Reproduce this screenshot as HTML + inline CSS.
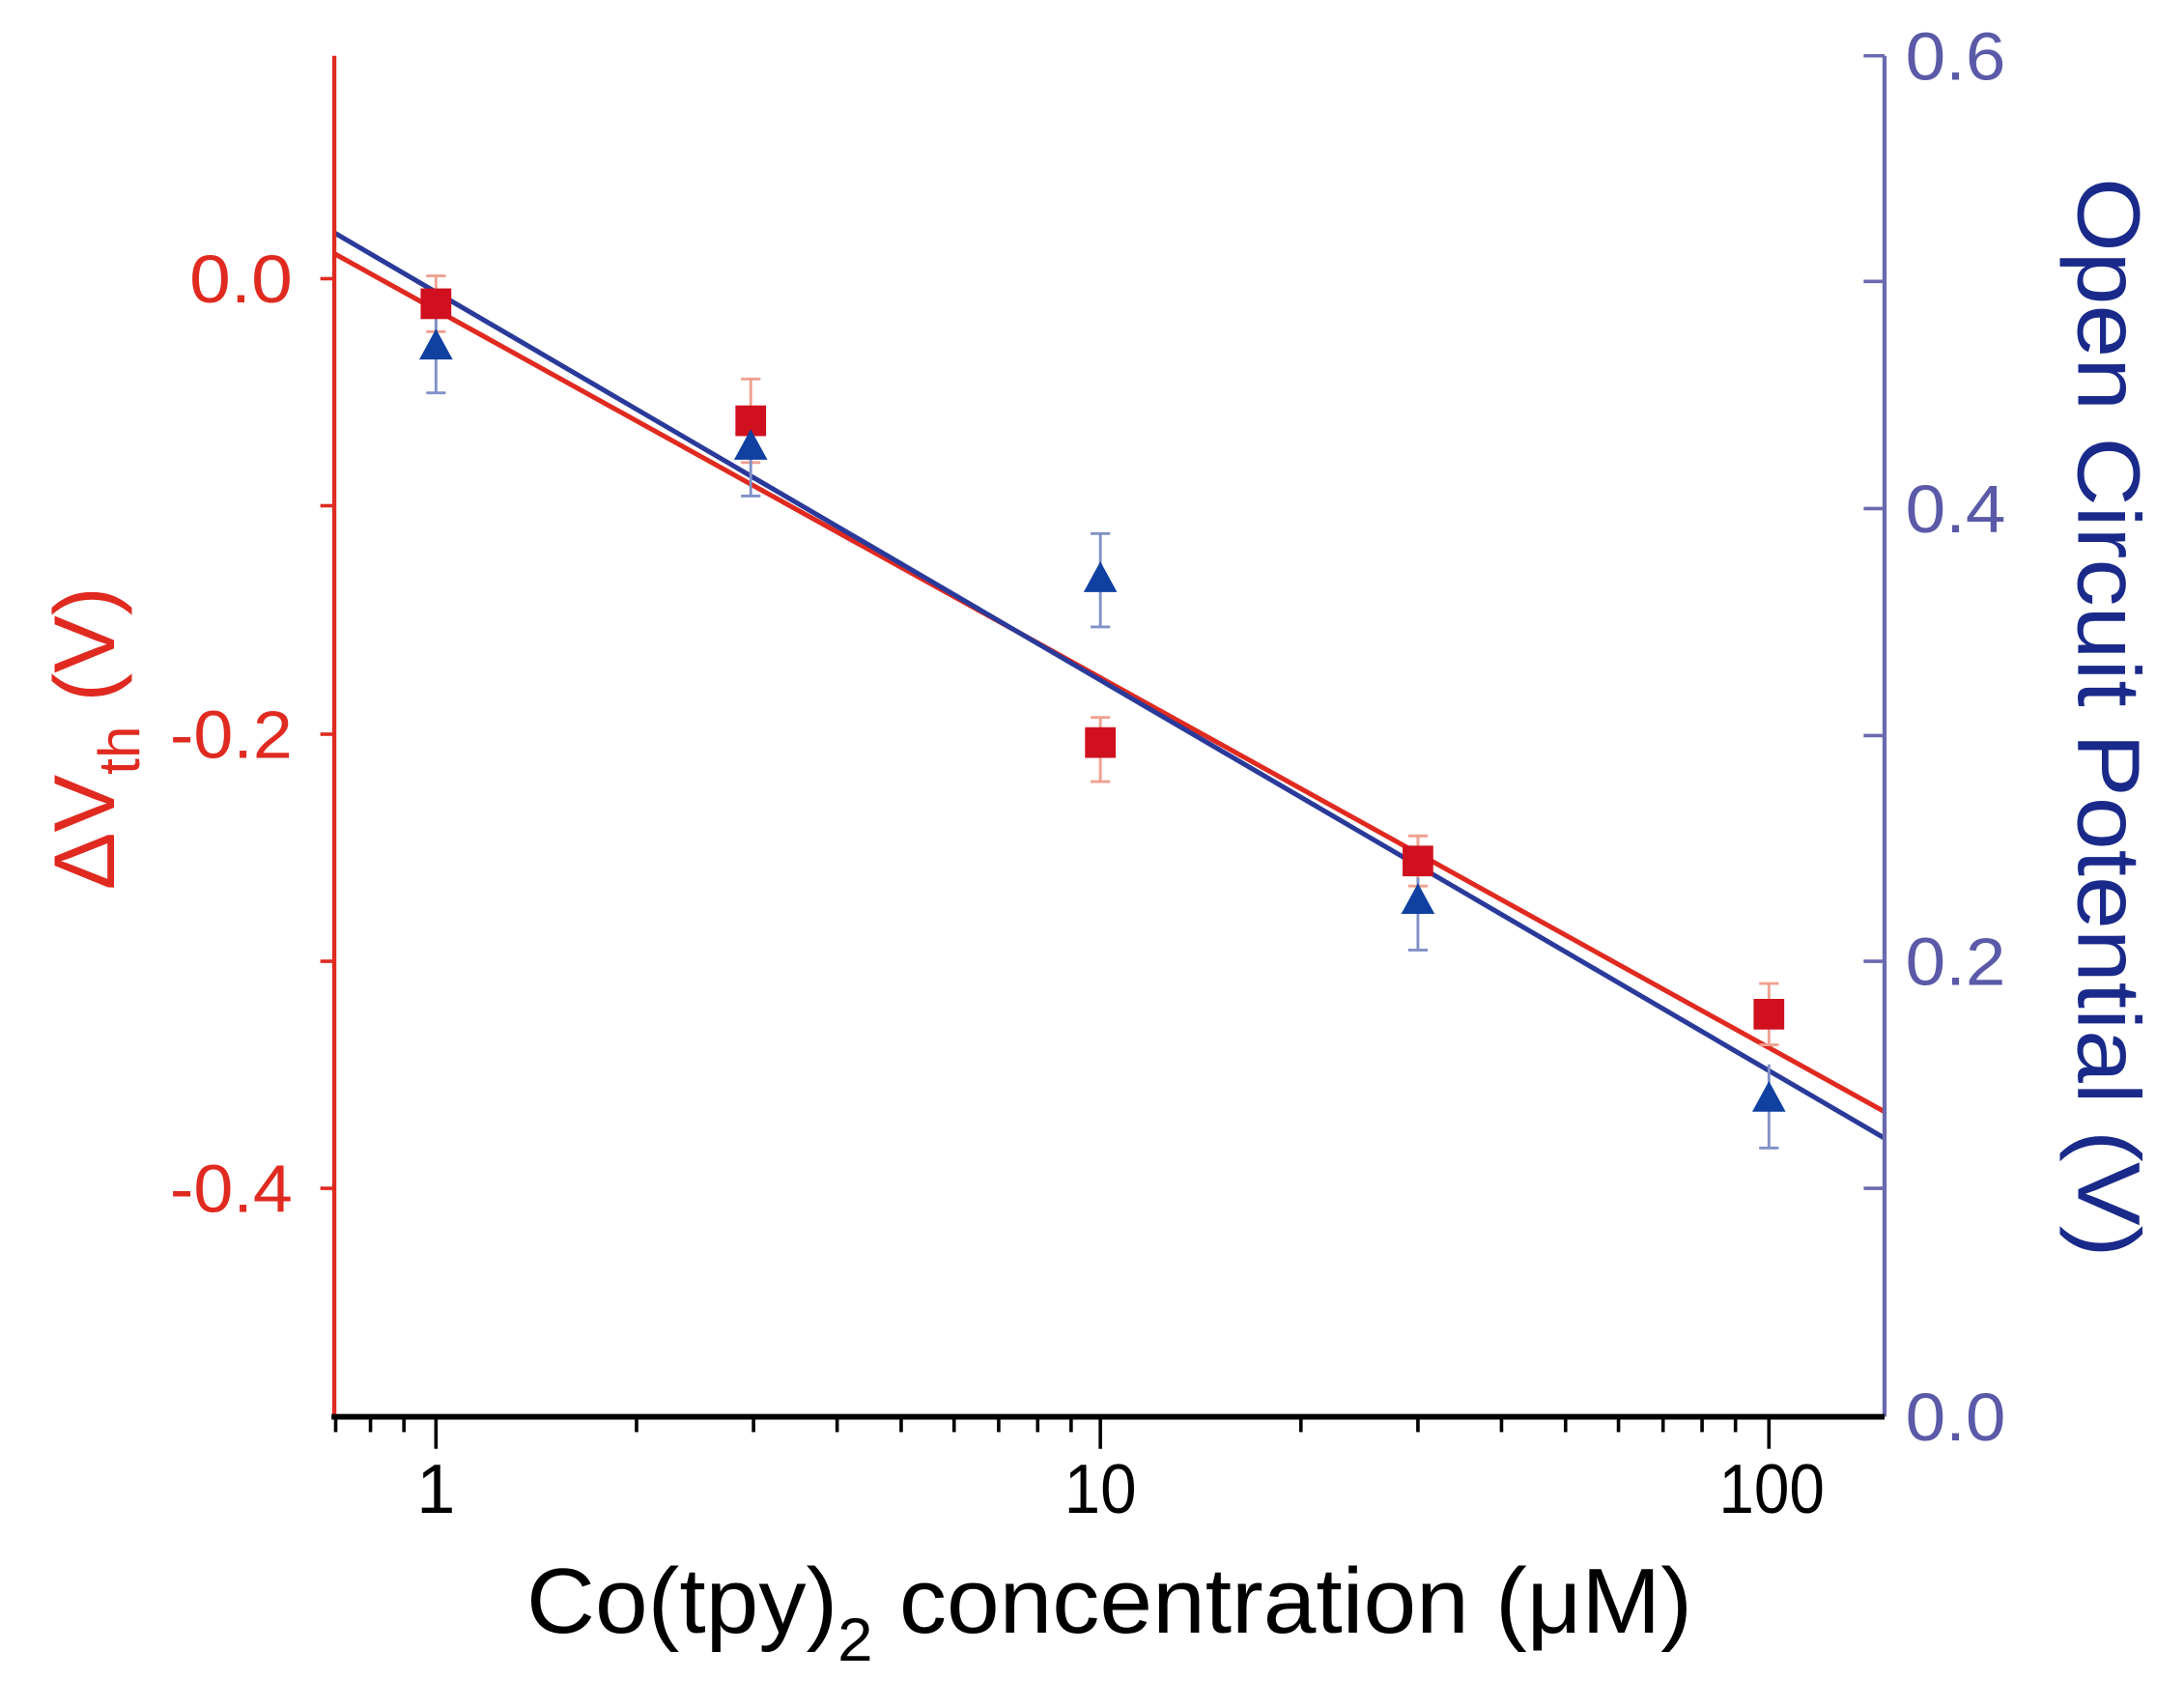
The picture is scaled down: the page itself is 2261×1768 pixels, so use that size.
<!DOCTYPE html>
<html><head><meta charset="utf-8"><style>html,body{margin:0;padding:0;background:#fff}svg{display:block}</style></head>
<body>
<svg width="2261" height="1768" viewBox="0 0 1568 1226" xmlns="http://www.w3.org/2000/svg" font-family="Liberation Sans, Arial, sans-serif">
<rect width="1568" height="1226" fill="#fff"/>
<line x1="240" y1="182" x2="1353" y2="798" stroke="#e02a20" stroke-width="3.5"/>
<line x1="240" y1="167" x2="1353" y2="817" stroke="#2a3a9a" stroke-width="3.5"/>
<g stroke="#f0a090" stroke-width="2">
<line x1="313" y1="198" x2="313" y2="238"/><line x1="306" y1="198" x2="320" y2="198"/><line x1="306" y1="238" x2="320" y2="238"/>
<line x1="539" y1="272" x2="539" y2="332"/><line x1="532" y1="272" x2="546" y2="272"/><line x1="532" y1="332" x2="546" y2="332"/>
<line x1="790" y1="515" x2="790" y2="561"/><line x1="783" y1="515" x2="797" y2="515"/><line x1="783" y1="561" x2="797" y2="561"/>
<line x1="1018" y1="600" x2="1018" y2="636"/><line x1="1011" y1="600" x2="1025" y2="600"/><line x1="1011" y1="636" x2="1025" y2="636"/>
<line x1="1270" y1="706" x2="1270" y2="750"/><line x1="1263" y1="706" x2="1277" y2="706"/><line x1="1263" y1="750" x2="1277" y2="750"/>
</g>
<g stroke="#8090c8" stroke-width="2">
<line x1="313" y1="220" x2="313" y2="282"/><line x1="306" y1="282" x2="320" y2="282"/>
<line x1="539" y1="300" x2="539" y2="356"/><line x1="532" y1="356" x2="546" y2="356"/>
<line x1="790" y1="383" x2="790" y2="450"/><line x1="783" y1="383" x2="797" y2="383"/><line x1="783" y1="450" x2="797" y2="450"/>
<line x1="1018" y1="630" x2="1018" y2="682"/><line x1="1011" y1="682" x2="1025" y2="682"/>
<line x1="1270" y1="764" x2="1270" y2="824"/><line x1="1263" y1="824" x2="1277" y2="824"/>
</g>
<g fill="#d0101e">
<rect x="302" y="207" width="22" height="22"/>
<rect x="528" y="291" width="22" height="22"/>
<rect x="779" y="522" width="22" height="22"/>
<rect x="1007" y="607" width="22" height="22"/>
<rect x="1259" y="717" width="22" height="22"/>
</g>
<g fill="#1040a0">
<polygon points="313,236 301,258 325,258"/>
<polygon points="539,308 527,330 551,330"/>
<polygon points="790,403 778,425 802,425"/>
<polygon points="1018,634 1006,656 1030,656"/>
<polygon points="1270,776 1258,798 1282,798"/>
</g>
<line x1="240" y1="40" x2="240" y2="1017" stroke="#e02a20" stroke-width="3"/>
<g stroke="#e02a20" stroke-width="2.5">
<line x1="230" y1="200" x2="240" y2="200"/><line x1="230" y1="363" x2="240" y2="363"/><line x1="230" y1="527" x2="240" y2="527"/><line x1="230" y1="690" x2="240" y2="690"/><line x1="230" y1="853" x2="240" y2="853"/>
</g>
<g fill="#e02a20" font-size="48" text-anchor="end">
<text x="210" y="217" textLength="74" lengthAdjust="spacingAndGlyphs">0.0</text><text x="210" y="544" textLength="88" lengthAdjust="spacingAndGlyphs">-0.2</text><text x="210" y="870" textLength="88" lengthAdjust="spacingAndGlyphs">-0.4</text>
</g>
<text transform="translate(82,530) rotate(-90)" fill="#e02a20" font-size="62" text-anchor="middle">ΔV<tspan font-size="42" dy="18">th</tspan><tspan dy="-18"> (V)</tspan></text>
<line x1="1353" y1="40" x2="1353" y2="1017" stroke="#6a6ab0" stroke-width="3"/>
<g stroke="#6a6ab0" stroke-width="2.5">
<line x1="1338" y1="40" x2="1353" y2="40"/><line x1="1338" y1="202" x2="1353" y2="202"/><line x1="1338" y1="365" x2="1353" y2="365"/><line x1="1338" y1="528" x2="1353" y2="528"/><line x1="1338" y1="690" x2="1353" y2="690"/><line x1="1338" y1="853" x2="1353" y2="853"/>
</g>
<g fill="#5a5aa8" font-size="48">
<text x="1368" y="57" textLength="72" lengthAdjust="spacingAndGlyphs">0.6</text><text x="1368" y="382" textLength="72" lengthAdjust="spacingAndGlyphs">0.4</text><text x="1368" y="707" textLength="72" lengthAdjust="spacingAndGlyphs">0.2</text><text x="1368" y="1034" textLength="72" lengthAdjust="spacingAndGlyphs">0.0</text>
</g>
<text transform="translate(1492,515) rotate(90)" fill="#1a2a8a" font-size="64" text-anchor="middle" textLength="775" lengthAdjust="spacingAndGlyphs">Open Circuit Potential (V)</text>
<line x1="238" y1="1017" x2="1353" y2="1017" stroke="#000" stroke-width="4"/>
<g stroke="#000" stroke-width="2.5">
<line x1="313" y1="1017" x2="313" y2="1040"/><line x1="790" y1="1017" x2="790" y2="1040"/><line x1="1270" y1="1017" x2="1270" y2="1040"/>
<line x1="241" y1="1017" x2="241" y2="1028"/><line x1="266" y1="1017" x2="266" y2="1028"/><line x1="290" y1="1017" x2="290" y2="1028"/>
<line x1="457" y1="1017" x2="457" y2="1028"/><line x1="541" y1="1017" x2="541" y2="1028"/><line x1="601" y1="1017" x2="601" y2="1028"/><line x1="647" y1="1017" x2="647" y2="1028"/><line x1="685" y1="1017" x2="685" y2="1028"/><line x1="717" y1="1017" x2="717" y2="1028"/><line x1="745" y1="1017" x2="745" y2="1028"/><line x1="769" y1="1017" x2="769" y2="1028"/>
<line x1="934" y1="1017" x2="934" y2="1028"/><line x1="1018" y1="1017" x2="1018" y2="1028"/><line x1="1078" y1="1017" x2="1078" y2="1028"/><line x1="1124" y1="1017" x2="1124" y2="1028"/><line x1="1162" y1="1017" x2="1162" y2="1028"/><line x1="1194" y1="1017" x2="1194" y2="1028"/><line x1="1222" y1="1017" x2="1222" y2="1028"/><line x1="1246" y1="1017" x2="1246" y2="1028"/>
</g>
<g fill="#000" font-size="50" text-anchor="middle">
<text x="313" y="1086">1</text><text x="790" y="1086" textLength="52" lengthAdjust="spacingAndGlyphs">10</text><text x="1272" y="1086" textLength="76" lengthAdjust="spacingAndGlyphs">100</text>
</g>
<text x="378" y="1172" fill="#000" font-size="66" textLength="837" lengthAdjust="spacingAndGlyphs">Co(tpy)<tspan font-size="44" dy="20">2</tspan><tspan dy="-20"> concentration (μM)</tspan></text>
</svg>
</body></html>
